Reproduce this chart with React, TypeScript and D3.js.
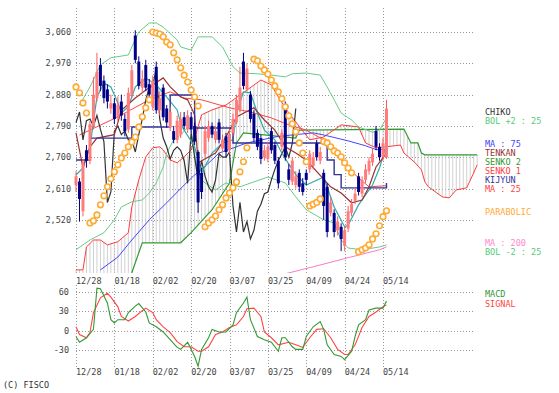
import * as d3 from 'd3';

type Pt = [number, number];

// bar index 0 = 12/28, gridline every 11 sessions
const dateLabels = ['12/28', '01/18', '02/02', '02/20', '03/07', '03/25', '04/09', '04/24', '05/14'];
const dateIdx = [0, 11, 22, 33, 44, 55, 66, 77, 88];
const priceTicks = [2520, 2610, 2700, 2790, 2880, 2970, 3060];
const macdTicks = [-30, 0, 30, 60];

const opens = [2620,2630,2545,2720,2690,2790,2870,2965,2920,2895, 2840,2855,2815,2860,2810,2780,2880,3050,2975,2900, 2965,2910,2845,2960,2835,2900,2840,2785,2775,2750, 2765,2815,2780,2815,2790,2715,2655,2710,2755,2790, 2750,2800,2725,2760,2720,2770,2800,2835,2975,2895, 2880,2825,2770,2755,2700,2695,2775,2735,2690,2730, 2840,2665,2630,2620,2655,2625,2655,2665,2675,2740, 2690,2655,2615,2540,2540,2490,2500,2445,2495,2540, 2575,2645,2595,2635,2660,2685,2775,2730,2700,2700];
const closes = [2645,2580,2685,2690,2795,2880,2945,2905,2870,2860, 2855,2810,2850,2820,2775,2885,2950,2980,2905,2925, 2900,2880,2920,2835,2870,2815,2800,2830,2750,2805, 2810,2790,2820,2780,2745,2570,2600,2775,2790,2765, 2775,2750,2750,2715,2765,2810,2865,2900,2905,2955, 2810,2755,2730,2695,2720,2730,2720,2690,2625,2770, 2700,2635,2690,2645,2615,2600,2635,2710,2700,2700, 2715,2560,2485,2570,2485,2515,2465,2490,2545,2565, 2595,2600,2635,2665,2690,2710,2730,2700,2740,2840];
const highs = [2660,2640,2695,2735,2805,2930,3000,2985,2935,2910, 2880,2870,2875,2880,2825,2900,2965,3065,2990,2950, 2980,2925,2935,2975,2890,2910,2850,2845,2790,2820, 2830,2830,2835,2830,2800,2720,2670,2790,2805,2800, 2790,2810,2765,2770,2780,2825,2880,2960,3000,2970, 2890,2835,2780,2765,2735,2745,2785,2745,2700,2780, 2860,2680,2700,2660,2665,2640,2665,2720,2715,2750, 2730,2665,2625,2585,2550,2530,2510,2500,2560,2580, 2610,2655,2645,2680,2700,2725,2790,2740,2755,2865];
const lows = [2600,2515,2530,2670,2680,2780,2860,2890,2855,2840, 2825,2795,2805,2805,2760,2770,2870,2970,2895,2885, 2890,2860,2835,2825,2820,2805,2785,2775,2740,2740, 2755,2780,2770,2770,2735,2540,2580,2700,2745,2755, 2740,2740,2715,2700,2710,2760,2795,2830,2895,2890, 2800,2745,2720,2680,2690,2685,2710,2680,2610,2720, 2690,2620,2620,2610,2600,2590,2620,2655,2665,2690, 2680,2520,2470,2530,2470,2475,2430,2430,2485,2530, 2565,2590,2585,2625,2650,2675,2720,2690,2690,2695];

const bolUp: Pt[] = [[1,2850],[4,2902],[7,2965],[10,2986],[15,2994],[16,3017],[18,3060],[21,3086],[23,3086],[25,3074],[29,3037],[30,3017],[33,3008],[35,3046],[39,3046],[42,3017],[45,2960],[47,2942],[52,2940],[56,2936],[60,2931],[62,2940],[66,2942],[70,2936],[72,2902],[74,2865],[76,2827],[79,2807],[81,2787],[85,2772],[87,2778],[89,2813]];
const bolDn: Pt[] = [[0,2434],[4,2462],[8,2483],[11,2520],[13,2557],[16,2572],[19,2577],[21,2597],[23,2626],[25,2672],[26,2712],[28,2750],[30,2764],[32,2787],[33,2778],[35,2643],[37,2626],[40,2606],[43,2626],[47,2615],[55,2643],[60,2626],[63,2586],[66,2549],[71,2520],[74,2511],[76,2462],[78,2439],[82,2434],[87,2442],[89,2448]];
const ma25: Pt[] = [[1,2764],[12,2816],[21,2865],[27,2888],[31,2870],[36,2865],[44,2842],[50,2830],[56,2813],[61,2793],[66,2778],[71,2750],[76,2692],[81,2640],[84,2615],[89,2618]];
const ma75: Pt[] = [[7,2376],[12,2413],[16,2462],[21,2520],[26,2569],[31,2620],[34,2649],[36,2664],[41,2712],[49,2741],[58,2760],[68,2770],[71,2764],[78,2747],[83,2733],[86,2722],[89,2722]];
const ma200: Pt[] = [[56,2355],[68,2385],[78,2411],[87,2434],[89,2442]];
const ma5: Pt[] = [[0,2649],[2,2669],[4,2730],[6,2873],[8,2913],[10,2902],[12,2856],[13,2827],[15,2845],[17,2902],[20,2928],[23,2908],[26,2873],[29,2836],[30,2798],[31,2778],[34,2730],[36,2655],[39,2712],[42,2741],[45,2750],[46,2827],[48,2888],[50,2885],[52,2827],[54,2778],[57,2750],[59,2712],[61,2680],[63,2650],[66,2620],[71,2643],[74,2557],[77,2500],[78,2505],[81,2563],[85,2620],[87,2669],[89,2735]];
const tenkan: Pt[] = [[0,2770],[2,2670],[4,2730],[6,2755],[11,2765],[13,2835],[17,2870],[22,2908],[25,2928],[27,2902],[30,2873],[32,2865],[34,2822],[35,2684],[40,2712],[43,2758],[46,2816],[51,2842],[54,2807],[57,2778],[60,2730],[63,2712],[66,2692],[73,2615],[76,2597],[79,2569],[82,2577],[84,2615],[86,2672],[89,2712]];
const kijun: Pt[] = [[0,2692],[4,2755],[16,2787],[27,2879],[34,2784],[45,2741],[72,2692],[74,2650],[76,2612],[89,2626]];
const senko1: Pt[] = [[0,2376],[2,2376],[3,2442],[5,2462],[7,2462],[9,2448],[12,2457],[15,2483],[16,2557],[18,2635],[20,2701],[22,2727],[24,2730],[25,2721],[27,2692],[29,2684],[31,2701],[33,2721],[36,2822],[39,2836],[43,2850],[49,2893],[53,2922],[56,2908],[58,2873],[61,2827],[67,2750],[71,2758],[76,2793],[81,2787],[83,2741],[86,2727],[89,2730],[93,2735],[94,2712],[97,2686],[99,2664],[100,2629],[101,2615],[105,2586],[107,2583],[109,2606],[112,2612],[114,2655],[115,2678]];
const senko2: Pt[] = [[14,2300],[16,2368],[19,2454],[30,2454],[33,2483],[39,2549],[44,2626],[46,2741],[48,2770],[63,2755],[64,2778],[94,2781],[96,2741],[98,2741],[99,2712],[100,2707],[115,2707]];
const parabolic: (number | null)[] = [2902,2885,2856,2827, 2511,2517,2534,2563,2589,2615,2638,2658,2678,2698,2712,2730,2744,2758,2787,2816,2842,2865, 3060,3057,3054,3046,3031,3023,3000,2980,2957,2936,2916,2893,2873,2847, null, 2500,2511,2520,2531,2549,2563,2583,2597,2612,2629,2658,2687,2727, null, 2982,2977,2962,2951,2939,2922,2905,2888,2868,2845,2819,2796,2773,2741,2712,2687, 2560,2565,2570,2580, 2745,2741,2730,2718,2712,2701,2684,2669,2655, null, 2428,2434,2439,2448,2465,2480,2503,2529,2546];
const macd: Pt[] = [[0,-9],[1,-18],[3,-11],[5,2],[6,66],[7,65],[9,43],[10,17],[11,12],[12,17],[14,17],[15,28],[17,38],[18,42],[20,29],[21,12],[23,6],[25,-2],[27,-14],[29,-26],[30,-29],[32,-18],[33,-29],[34,-40],[35,-55],[36,-29],[38,-11],[39,2],[41,-2],[43,-2],[45,9],[46,28],[48,43],[49,52],[50,17],[52,-9],[54,-14],[56,-18],[58,-32],[59,-11],[60,-11],[62,-25],[63,-29],[65,-29],[66,-9],[68,6],[70,14],[71,2],[72,-22],[74,-37],[76,-40],[77,-45],[79,-32],[80,-9],[81,9],[83,17],[84,32],[86,35],[88,35],[89,46]];
const signal: Pt[] = [[0,6],[1,-6],[3,-11],[4,-3],[5,28],[7,51],[9,58],[10,52],[12,37],[13,22],[15,15],[17,22],[19,31],[20,35],[22,28],[23,17],[25,6],[27,-3],[29,-17],[31,-25],[33,-25],[35,-32],[36,-32],[38,-25],[40,-6],[42,-2],[44,5],[46,9],[48,22],[49,34],[51,35],[53,22],[54,-2],[56,-11],[58,-22],[61,-18],[63,-22],[65,-26],[67,-11],[69,2],[71,3],[73,-11],[75,-29],[77,-37],[78,-37],[80,-22],[82,5],[84,22],[86,29],[88,37],[89,40]];

const FONT = 'DejaVu Sans Mono';

const interp = (pts: Pt[], i: number): number | null => {
	if (i < pts[0][0] || i > pts[pts.length - 1][0]) return null;
	const k = d3.bisector((d: Pt) => d[0]).left(pts, i);
	if (pts[k][0] === i) return pts[k][1];
	const a = pts[k - 1], b = pts[k];
	return a[1] + ((b[1] - a[1]) * (i - a[0])) / (b[0] - a[0]);
};

export default function App() {
	const x = d3.scaleLinear().domain([0, 88]).range([76, 383]);
	const y = d3.scaleLinear().domain([2370, 3129]).range([272, 8]);
	const ym = d3.scaleLinear().domain([-30, 60]).range([350, 292]);

	const line = d3.line<Pt>().x((d) => x(d[0])).y((d) => y(d[1]));
	const mline = d3.line<Pt>().x((d) => x(d[0])).y((d) => ym(d[1]));
	const stepLine = d3.line<Pt>().x((d) => x(d[0])).y((d) => y(d[1])).curve(d3.curveStepAfter);

	// chiko = close drawn 26 sessions back
	const chiko: Pt[] = closes.slice(26).map((c, k) => [k, c]);
	const hatch = d3.range(0, 116).map((i) => {
		const a = interp(senko1, i);
		const b = interp(senko2, i) ?? 2300;
		return { i, a: a ?? 2300, b };
	});

	const x0 = 76, x1 = 475;

	const series: { pts: Pt[]; color: string; w: number; step?: boolean }[] = [
		{ pts: senko2, color: '#339933', w: 1.2 },
		{ pts: senko1, color: '#ff3b3b', w: 1 },
		{ pts: bolUp, color: '#66cc88', w: 1 },
		{ pts: bolDn, color: '#66cc88', w: 1 },
		{ pts: ma200, color: '#ff77cc', w: 1 },
		{ pts: ma75, color: '#4444ff', w: 1 },
		{ pts: ma25, color: '#ff4444', w: 1 },
		{ pts: chiko, color: '#333333', w: 1.2 },
		{ pts: ma5, color: '#33aaaa', w: 1.2 },
		{ pts: tenkan, color: '#993333', w: 1.2 },
		{ pts: kijun, color: '#333399', w: 1.4, step: true },
	];

	// right-hand legend, spread a little so texts stay readable
	const labels: { t: string; yy: number; c: string }[] = [
		{ t: 'CHIKO', yy: 115, c: '#333333' },
		{ t: 'BOL +2 : 25', yy: 124, c: '#55cc77' },
		{ t: 'MA : 75', yy: 147, c: '#4444ff' },
		{ t: 'TENKAN', yy: 156, c: '#993333' },
		{ t: 'SENKO 2', yy: 165, c: '#339933' },
		{ t: 'SENKO 1', yy: 174, c: '#ff3b3b' },
		{ t: 'KIJYUN', yy: 183, c: '#333399' },
		{ t: 'MA : 25', yy: 192, c: '#ff4444' },
		{ t: 'PARABOLIC', yy: 215, c: '#ffaa33' },
		{ t: 'MA : 200', yy: 246, c: '#ff88cc' },
		{ t: 'BOL -2 : 25', yy: 255, c: '#55cc77' },
	];

	return (
		<svg width={559} height={393} style={{ position: 'absolute', left: 0, top: 0, background: '#fff' }}>
			<defs>
				<clipPath id='main'>
					<rect x={70} y={8} width={410} height={265} />
				</clipPath>
				<clipPath id='sub'>
					<rect x={70} y={284} width={410} height={85} />
				</clipPath>
			</defs>

			{/* grid */}
			<g stroke='#999' strokeWidth={1} strokeDasharray='1,2' fill='none'>
				{priceTicks.map((p) => (
					<line key={p} x1={x0} x2={x1} y1={Math.round(y(p)) + 0.5} y2={Math.round(y(p)) + 0.5} />
				))}
				{macdTicks.map((v) => (
					<line key={v} x1={x0} x2={x1} y1={Math.round(ym(v)) + 0.5} y2={Math.round(ym(v)) + 0.5} />
				))}
				{dateIdx.map((i) => (
					<g key={i}>
						<line x1={Math.round(x(i)) + 0.5} x2={Math.round(x(i)) + 0.5} y1={8} y2={273} />
						<line x1={Math.round(x(i)) + 0.5} x2={Math.round(x(i)) + 0.5} y1={285} y2={368} />
					</g>
				))}
			</g>

			<g clipPath='url(#main)'>
				{/* cloud hatching */}
				<g stroke='#c4c4c4' strokeWidth={0.8}>
					{hatch.map((h) => (
						<line key={h.i} x1={x(h.i)} x2={x(h.i)} y1={y(h.a)} y2={y(h.b)} />
					))}
				</g>
				{series.map((s, k) => (
					<path key={k} d={(s.step ? stepLine : line)(s.pts) ?? ''} fill='none' stroke={s.color} strokeWidth={s.w} />
				))}
				{/* candles */}
				{closes.map((c, i) => {
					const o = opens[i];
					const up = c >= o;
					const col = up ? '#ff5a5a' : '#000088';
					const fill = up ? '#ff7c7c' : '#000088';
					const cx = x(i);
					const top = y(Math.max(o, c));
					const bot = y(Math.min(o, c));
					return (
						<g key={i}>
							<line x1={cx} x2={cx} y1={y(highs[i])} y2={y(lows[i])} stroke={col} strokeWidth={1} />
							<rect x={cx - 1.5} y={top} width={3} height={Math.max(1, bot - top)} fill={fill} />
						</g>
					);
				})}
				{/* parabolic */}
				{parabolic.map((p, i) =>
					p === null ? null : (
						<circle key={i} cx={x(i)} cy={y(p)} r={2.8} fill='#fff' stroke='#ffaa33' strokeWidth={1.6} />
					)
				)}
			</g>

			<g clipPath='url(#sub)'>
				<path d={mline(signal) ?? ''} fill='none' stroke='#ff4444' strokeWidth={1.1} />
				<path d={mline(macd) ?? ''} fill='none' stroke='#339933' strokeWidth={1.1} />
			</g>

			<g fontFamily={FONT} fontSize={8.5}>
				{priceTicks.map((p) => (
					<text key={p} x={71} y={y(p) + 3} textAnchor='end' fill='#444'>
						{d3.format(',')(p)}
					</text>
				))}
				{macdTicks.map((v) => (
					<text key={v} x={69} y={ym(v) + 3} textAnchor='end' fill='#444'>
						{v}
					</text>
				))}
				{dateIdx.map((i, k) => (
					<g key={i}>
						<text x={x(i)} y={284} fill='#444'>{dateLabels[k]}</text>
						<text x={x(i)} y={375} fill='#444'>{dateLabels[k]}</text>
					</g>
				))}
				{labels.map((l) => (
					<text key={l.t} x={485} y={l.yy} fill={l.c}>{l.t}</text>
				))}
				<text x={485} y={297} fill='#339933'>MACD</text>
				<text x={485} y={307} fill='#ff4444'>SIGNAL</text>
				<text x={3} y={388} fill='#333'>(C) FISCO</text>
			</g>
		</svg>
	);
}
